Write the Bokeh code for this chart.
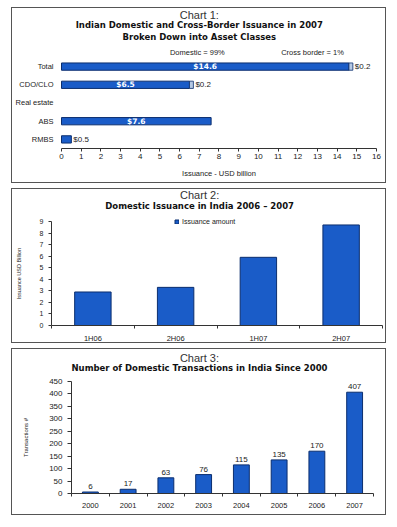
from bokeh.plotting import figure
from bokeh.models import (Range1d, Label, LabelSet, ColumnDataSource,
                          FixedTicker, Legend, LegendItem)
from bokeh.core.properties import value
from bokeh.layouts import column
from bokeh.embed import file_html
from bokeh.resources import INLINE

# ---------------- data ----------------
c1_classes = ["Total", "CDO/CLO", "Real estate", "ABS", "RMBS"]
c1_domestic = [14.6, 6.5, 0.0, 7.6, 0.5]
c1_cross = [0.2, 0.2, 0.0, 0.0, 0.0]
c1_xticks = list(range(0, 17))
c1_titles = ["Chart 1:", "Indian Domestic and Cross-Border Issuance in 2007",
             "Broken Down into Asset Classes"]
c1_shares = ["Domestic = 99%", "Cross border = 1%"]

c2_periods = ["1H06", "2H06", "1H07", "2H07"]
c2_amount = [2.9, 3.3, 5.9, 8.7]
c2_yticks = list(range(0, 10))
c2_titles = ["Chart 2:", "Domestic Issuance in India 2006 \u2013 2007"]

c3_years = ["2000", "2001", "2002", "2003", "2004", "2005", "2006", "2007"]
c3_count = [6, 17, 63, 76, 115, 135, 170, 407]
c3_yticks = list(range(0, 451, 50))
c3_titles = ["Chart 3:", "Number of Domestic Transactions in India Since 2000"]

# ---------------- style ----------------
FONT = "Liberation Sans"
BOLD = "DejaVu Sans"
BLUE = "#1a5cc8"
EDGE = "#0b2e6e"
LIGHT = "#b4c8e4"
AX = "#333333"
BOX = {"border": "1px solid #555555"}


def make_fig(h, xr, yr):
    fig = figure(width=375, height=h, title=None, output_backend="svg", toolbar_location=None,
                 x_range=Range1d(*xr), y_range=Range1d(*yr),
                 min_border_left=0, min_border_right=0, min_border_top=0, min_border_bottom=0,
                 styles=BOX)
    fig.xgrid.visible = False
    fig.ygrid.visible = False
    fig.outline_line_color = None
    for ax in fig.axis:
        ax.fixed_location = 0
        ax.axis_line_color = AX
        ax.major_tick_line_color = AX
        ax.minor_tick_line_color = AX
        ax.major_tick_in = 0
        ax.minor_tick_in = 0
        ax.minor_tick_out = 0
        ax.major_label_text_font = FONT
        ax.major_label_text_color = "#222222"
        ax.axis_label_text_font = FONT
        ax.axis_label_text_font_style = "normal"
        ax.axis_label_text_color = "#222222"
    return fig


def titles(fig, lines, x, ys):
    for i, (t, y) in enumerate(zip(lines, ys)):
        if i == 0:
            fig.add_layout(Label(x=x, y=y, text=t, text_align="center", text_baseline="middle",
                                 text_font=FONT, text_font_size="11px", text_color="#333333"))
        else:
            fig.add_layout(Label(x=x, y=y, text=t, text_align="center", text_baseline="middle",
                                 text_font=BOLD, text_font_style="bold", text_font_size="8.5px",
                                 text_color="#111111"))


# ---------------- chart 1 ----------------
n1 = len(c1_classes)
y1 = [n1 - i - 0.5 for i in range(n1)]          # Total at top
p1 = make_fig(176, (-2.489, 16.559), (-1.978, 7.692))

dom = [(y, d) for y, d in zip(y1, c1_domestic) if d > 0]
p1.hbar(y=[y for y, _ in dom], left=0, right=[d for _, d in dom], height=0.4,
        fill_color=BLUE, line_color=EDGE, line_width=1)
cb = [(y, d, x) for y, d, x in zip(y1, c1_domestic, c1_cross) if x > 0]
p1.hbar(y=[y for y, _, _ in cb], left=[d for _, d, _ in cb], right=[d + x for _, d, x in cb],
        height=0.4, fill_color=LIGHT, line_color=EDGE, line_width=0.8)

inside = [(y, d) for y, d in zip(y1, c1_domestic) if d >= 2]
p1.text(x=[d / 2 for _, d in inside], y=[y for y, _ in inside],
        text=["$%.1f" % d for _, d in inside], text_color="white", text_align="center",
        text_baseline="middle", text_font=value(BOLD), text_font_style="bold", text_font_size="7.5px")
outside = [(y, d) for y, d in zip(y1, c1_domestic) if 0 < d < 2]
p1.text(x=[d for _, d in outside], y=[y for y, _ in outside],
        text=["$%.1f" % d for _, d in outside], x_offset=2, text_color="#222222", text_align="left",
        text_baseline="middle", text_font=value(FONT), text_font_size="8px")
p1.text(x=[d + x for _, d, x in cb], y=[y for y, _, _ in cb],
        text=["$%.1f" % x for _, _, x in cb], x_offset=2, text_color="#222222", text_align="left",
        text_baseline="middle", text_font=value(FONT), text_font_size="8px")

p1.xaxis.ticker = FixedTicker(ticks=c1_xticks, minor_ticks=[])
p1.xaxis.bounds = (c1_xticks[0], c1_xticks[-1])
p1.xaxis.major_tick_out = 3
p1.xaxis.major_label_standoff = 3
p1.xaxis.major_label_text_font_size = "8px"
p1.xaxis.axis_label = "Issuance - USD billion"
p1.xaxis.axis_label_text_font_size = "7.5px"
p1.xaxis.axis_label_standoff = 6
p1.yaxis.ticker = FixedTicker(ticks=y1, minor_ticks=[])
p1.yaxis.bounds = (0, n1)
p1.yaxis.major_label_overrides = {y: c for y, c in zip(y1, c1_classes)}
p1.yaxis.axis_line_color = None
p1.yaxis.major_tick_line_color = None
p1.yaxis.major_tick_out = 0
p1.yaxis.major_label_standoff = 8
p1.yaxis.major_label_text_font_size = "7.5px"

titles(p1, c1_titles, 7.0, [7.31, 6.76, 6.10])
p1.add_layout(Label(x=6.9, y=5.27, text=c1_shares[0], text_align="center", text_baseline="middle",
                    text_font=FONT, text_font_size="7.5px", text_color="#222222"))
p1.add_layout(Label(x=12.75, y=5.27, text=c1_shares[1], text_align="center", text_baseline="middle",
                    text_font=FONT, text_font_size="7.5px", text_color="#222222"))

# ---------------- chart 2 ----------------
x2 = [i + 0.5 for i in range(len(c2_periods))]
p2 = make_fig(155, (-0.4713, 4.0604), (-1.644, 11.769))
r2 = p2.vbar(x=x2, top=c2_amount, width=0.44, fill_color=BLUE, line_color=EDGE, line_width=1)
p2.xaxis.ticker = FixedTicker(ticks=x2, minor_ticks=list(range(len(c2_periods) + 1)))
p2.xaxis.bounds = (0, len(c2_periods))
p2.xaxis.major_label_overrides = {x: lab for x, lab in zip(x2, c2_periods)}
p2.xaxis.major_tick_out = 0
p2.xaxis.minor_tick_out = 3
p2.xaxis.major_label_standoff = 5
p2.xaxis.major_label_text_font_size = "7.5px"
p2.yaxis.ticker = FixedTicker(ticks=c2_yticks, minor_ticks=[])
p2.yaxis.bounds = (c2_yticks[0], c2_yticks[-1])
p2.yaxis.major_tick_out = 3
p2.yaxis.major_label_standoff = 5
p2.yaxis.major_label_text_font_size = "7px"
p2.yaxis.axis_label = "Issuance USD Billion"
p2.yaxis.axis_label_text_font_size = "5.5px"
p2.yaxis.axis_label_standoff = 15
titles(p2, c2_titles, 1.79, [11.25, 10.30])
leg = Legend(items=[LegendItem(label="Issuance amount", renderers=[r2])], location=(162, 119),
             border_line_color=None, background_fill_alpha=0, padding=0, margin=0,
             glyph_height=5, glyph_width=5, label_height=7, label_standoff=3, spacing=0,
             label_text_font=FONT, label_text_font_size="7px", label_text_color="#222222")
p2.add_layout(leg)

# ---------------- chart 3 ----------------
x3 = [i + 0.5 for i in range(len(c3_years))]
p3 = make_fig(167, (-1.563, 8.371), (-92.4, 578.6))
src3 = ColumnDataSource(dict(x=x3, top=c3_count, label=[str(v) for v in c3_count]))
p3.vbar(x="x", top="top", width=0.42, source=src3, fill_color=BLUE, line_color=EDGE, line_width=1)
p3.add_layout(LabelSet(x="x", y="top", text="label", source=src3, y_offset=3,
                       text_align="center", text_baseline="bottom", text_font=value(FONT),
                       text_font_size="8px", text_color="#222222"))
p3.xaxis.ticker = FixedTicker(ticks=x3, minor_ticks=list(range(len(c3_years) + 1)))
p3.xaxis.bounds = (0, len(c3_years))
p3.xaxis.major_label_overrides = {x: lab for x, lab in zip(x3, c3_years)}
p3.xaxis.major_tick_out = 0
p3.xaxis.minor_tick_out = 3
p3.xaxis.major_label_standoff = 6
p3.xaxis.major_label_text_font_size = "7.5px"
p3.yaxis.ticker = FixedTicker(ticks=c3_yticks, minor_ticks=[])
p3.yaxis.bounds = (c3_yticks[0], c3_yticks[-1])
p3.yaxis.major_tick_out = 4
p3.yaxis.major_label_standoff = 5
p3.yaxis.major_label_text_font_size = "8px"
p3.yaxis.axis_label = "Transactions #"
p3.yaxis.axis_label_text_font_size = "6px"
p3.yaxis.axis_label_standoff = 17
titles(p3, c3_titles, 3.39, [546.4, 506.2])

layout = column(p1, p2, p3, spacing=5, styles={"margin-left": "11px", "margin-top": "7px"})
open("out.html", "w").write(file_html(layout, INLINE))
